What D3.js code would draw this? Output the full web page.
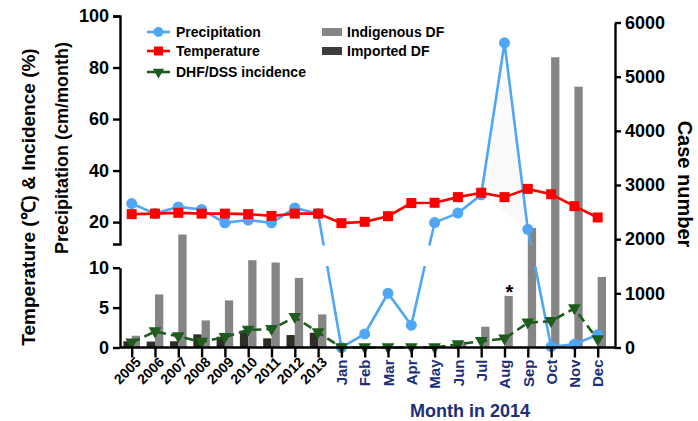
<!DOCTYPE html>
<html>
<head>
<meta charset="utf-8">
<script src="https://cdn.jsdelivr.net/npm/d3@7"></script>
<style>
  html, body { margin: 0; padding: 0; background: #fff; }
  svg { display: block; font-family: "Liberation Sans", Arial, sans-serif; }
</style>
</head>
<body>
<svg id="chart" width="698" height="421"></svg>
<script>
// ---------- data ----------
const categories = ["2005","2006","2007","2008","2009","2010","2011","2012","2013",
  "Jan","Feb","Mar","Apr","May","Jun","Jul","Aug","Sep","Oct","Nov","Dec"];
const yearCats = ["2005","2006","2007","2008","2009","2010","2011","2012","2013"];
const precipitation = [27.2, 23.3, 25.9, 24.9, 19.7, 20.8, 19.7, 25.5, 23.3,
  0, 1.7, 6.8, 2.8, 19.8, 23.5, 30.6, 89.6, 17.2, 0.1, 0.4, 1.6];
const temperature = [23.1, 23.3, 23.6, 23.3, 23.3, 23.1, 22.4, 23.3, 23.3,
  19.6, 20.1, 22.3, 27.4, 27.5, 29.7, 31.4, 29.7, 32.9, 30.8, 26.2, 21.8];
const incidence = [0.6, 2.0, 1.4, 0.7, 1.3, 2.2, 2.3, 3.8, 1.9,
  0, 0, 0, 0, 0, 0.4, 0.8, 1.1, 3.1, 3.3, 4.9, 1.0];
const indigenous = [217, 980, 2085, 500, 869, 1611, 1569, 1285, 611,
  0, 0, 0, 0, 5, 107, 384, 951, 2206, 5358, 4815, 1302];
const imported = [115, 110, 115, 243, 199, 310, 169, 230, 272,
  0, 0, 0, 0, 0, 0, 0, 0, 0, 0, 0, 0];
const upperTicks = [20, 40, 60, 80, 100];
const lowerTicks = [0, 5, 10];
const rightTicks = [0, 1000, 2000, 3000, 4000, 5000, 6000];
const lineLegend = ["Precipitation", "Temperature", "DHF/DSS incidence"];
const barLegend = ["Indigenous DF", "Imported DF"];
const xTitle = "Month in 2014";
const leftTitle1 = "Temperature (\u2103) & Incidence (%)";
const leftTitle2 = "Precipitation (cm/month)";
const rightTitle = "Case number";

// ---------- style ----------
const BLUE = "#4fa6f5", RED = "#ff0000", GREEN = "#1d5c1d";
const GRAY = "#858585", DARK = "#2e2e27", NAVY = "#1c2f78";

const svg = d3.select("#chart");
const leftX = 120, rightX = 615, baseY = 347.5;

const x = d3.scalePoint().domain(categories).range([131.7, 597.7]);
const sub = d3.scaleBand().domain(["imported", "indigenous"]).range([-8.3, 8.3]).padding(0);
const yUp = d3.scaleLinear().domain([11.5, 100]).range([244, 16]);
const yLow = d3.scaleLinear().domain([0, 10]).range([baseY, 267.7]);
const yLeft = v => (v > 10.5 ? yUp(v) : yLow(v));
const yR = d3.scaleLinear().domain([0, 6000]).range([baseY, 22.5]);

// clip for broken-axis gap
const defs = svg.append("defs");
const cp = defs.append("clipPath").attr("id", "gapclip");
cp.append("rect").attr("x", 0).attr("y", 0).attr("width", 698).attr("height", 245.5);
cp.append("rect").attr("x", 0).attr("y", 266).attr("width", 698).attr("height", 160);

// faint shading under precipitation peak (Jul–Sep)
const peakIdx = [15, 16, 17];
svg.append("path")
  .attr("d", d3.line()(peakIdx.map(i => [x(categories[i]), yLeft(precipitation[i])])) + "Z")
  .attr("fill", "#fafafa").attr("stroke", "none");

// bars
const barData = categories.map((c, i) => ({ c, imported: imported[i], indigenous: indigenous[i] }));
const bg = svg.append("g");
["imported", "indigenous"].forEach(k => {
  bg.selectAll("rect." + k).data(barData).join("rect")
    .attr("class", k)
    .attr("x", d => x(d.c) + sub(k))
    .attr("width", sub.bandwidth())
    .attr("y", d => yR(d[k]))
    .attr("height", d => baseY - yR(d[k]))
    .attr("fill", k === "imported" ? DARK : GRAY);
});

// asterisk over Aug bar
svg.append("text").attr("x", x("Aug") + 5).attr("y", yR(indigenous[16]) + 3)
  .attr("text-anchor", "middle").attr("font-size", 20).attr("font-weight", "bold").text("*");

// precipitation line
const pts = categories.map((c, i) => [x(c), yLeft(precipitation[i])]);
svg.append("path").attr("clip-path", "url(#gapclip)")
  .attr("d", d3.line()(pts)).attr("fill", "none").attr("stroke", BLUE).attr("stroke-width", 2.6);
svg.append("g").selectAll("circle").data(pts).join("circle")
  .attr("cx", d => d[0]).attr("cy", d => d[1]).attr("r", 5.5).attr("fill", BLUE);

// temperature line
const tpts = categories.map((c, i) => [x(c), yLeft(temperature[i])]);
svg.append("path").attr("d", d3.line()(tpts)).attr("fill", "none").attr("stroke", RED).attr("stroke-width", 2.6);
svg.append("g").selectAll("rect").data(tpts).join("rect")
  .attr("x", d => d[0] - 5).attr("y", d => d[1] - 5).attr("width", 10).attr("height", 10).attr("fill", RED);

// incidence line
const ipts = categories.map((c, i) => [x(c), yLow(incidence[i])]);
svg.append("path").attr("d", d3.line()(ipts)).attr("fill", "none").attr("stroke", GREEN)
  .attr("stroke-width", 2.6).attr("stroke-dasharray", "9,5");
const tri = d3.symbol().type(d3.symbolTriangle).size(70);
svg.append("g").selectAll("path").data(ipts).join("path")
  .attr("d", tri).attr("transform", d => `translate(${d[0]},${d[1] - 0.5}) rotate(180)`).attr("fill", GREEN);

// ---------- axes ----------
function styleAxis(g, fs) {
  g.selectAll("path.domain").attr("stroke", "#000").attr("stroke-width", 2.4);
  g.selectAll(".tick line").attr("stroke", "#000").attr("stroke-width", 2.4);
  g.selectAll(".tick text").attr("font-size", fs).attr("font-weight", "bold").attr("fill", "#000")
    .attr("font-family", "Liberation Sans, Arial, sans-serif");
}
const gUp = svg.append("g").attr("transform", `translate(${leftX},0)`)
  .call(d3.axisLeft(yUp).tickValues(upperTicks).tickSize(7).tickSizeOuter(7).tickPadding(4));
styleAxis(gUp, 18);
const gLow = svg.append("g").attr("transform", `translate(${leftX},0)`)
  .call(d3.axisLeft(yLow).tickValues(lowerTicks).tickSize(7).tickSizeOuter(0).tickPadding(4));
styleAxis(gLow, 18);
const gR = svg.append("g").attr("transform", `translate(${rightX},0)`)
  .call(d3.axisRight(yR).tickValues(rightTicks).tickFormat(d3.format("d")).tickSize(6).tickSizeOuter(0).tickPadding(4));
styleAxis(gR, 18);

const gX = svg.append("g").attr("transform", `translate(0,${baseY})`)
  .call(d3.axisBottom(x).tickSize(10).tickSizeOuter(0));
gX.select("path.domain").attr("d", `M${leftX},0H${rightX}`);
styleAxis(gX, 14);
gX.selectAll(".tick text").each(function(d) {
  const t = d3.select(this);
  if (yearCats.includes(d)) {
    t.attr("text-anchor", "end").attr("transform", "translate(6,12) rotate(-45)")
      .attr("x", 0).attr("y", 0).attr("dy", "0.35em").attr("fill", "#000");
  } else {
    t.attr("text-anchor", "end").attr("transform", "translate(0,12) rotate(-90)")
      .attr("x", 0).attr("y", 0).attr("dy", "0.35em").attr("fill", NAVY).attr("font-size", 15);
  }
});

// titles
svg.append("text").attr("x", 470).attr("y", 417).attr("text-anchor", "middle")
  .attr("font-size", 18).attr("font-weight", "bold").attr("fill", NAVY).text(xTitle);
svg.append("text").attr("transform", "translate(35,197) rotate(-90)").attr("text-anchor", "middle")
  .attr("font-size", 19).attr("font-weight", "bold").text(leftTitle1);
svg.append("text").attr("transform", "translate(68,148) rotate(-90)").attr("text-anchor", "middle")
  .attr("font-size", 18).attr("font-weight", "bold").text(leftTitle2);
svg.append("text").attr("transform", "translate(678,184) rotate(90)").attr("text-anchor", "middle")
  .attr("font-size", 20).attr("font-weight", "bold").text(rightTitle);

// ---------- legend ----------
const lg = svg.append("g");
const lineCols = [BLUE, RED, GREEN];
const lineYs = [32, 51, 72];
lineLegend.forEach((name, i) => {
  const y = lineYs[i];
  lg.append("line").attr("x1", 147).attr("x2", 170).attr("y1", y).attr("y2", y)
    .attr("stroke", lineCols[i]).attr("stroke-width", 2.6);
  if (i === 0) lg.append("circle").attr("cx", 158.5).attr("cy", y).attr("r", 5).attr("fill", BLUE);
  if (i === 1) lg.append("rect").attr("x", 154).attr("y", y - 4.5).attr("width", 9).attr("height", 9).attr("fill", RED);
  if (i === 2) lg.append("path").attr("d", d3.symbol().type(d3.symbolTriangle).size(55))
    .attr("transform", `translate(158.5,${y}) rotate(180)`).attr("fill", GREEN);
  lg.append("text").attr("x", 176).attr("y", y).attr("dy", "0.35em")
    .attr("font-size", 14).attr("font-weight", "bold").text(name);
});
const barCols = [GRAY, "#3c3c3c"];
const barYs = [32, 51];
barLegend.forEach((name, i) => {
  const y = barYs[i];
  lg.append("rect").attr("x", 322).attr("y", y - 4).attr("width", 20).attr("height", 8).attr("fill", barCols[i]);
  lg.append("text").attr("x", 347).attr("y", y).attr("dy", "0.35em")
    .attr("font-size", 14).attr("font-weight", "bold").text(name);
});
</script>
</body>
</html>
